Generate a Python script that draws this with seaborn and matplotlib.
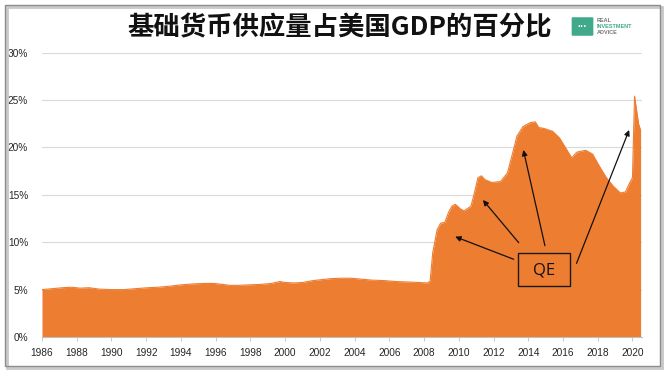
import numpy as np
import pandas as pd
import seaborn as sns
import matplotlib
matplotlib.use("Agg")
import matplotlib.pyplot as plt
from matplotlib.patches import Rectangle, FancyBboxPatch

# ---------------- data ----------------
years = [1986.0, 1986.6, 1987.2, 1987.7, 1988.2, 1988.7, 1989.3, 1990.0, 1990.7,
         1991.4, 1992.1, 1992.7, 1993.3, 1994.0, 1994.7, 1995.3, 1995.9, 1996.4,
         1996.8, 1997.3, 1997.9, 1998.6, 1999.2, 1999.7, 2000.0, 2000.5, 2001.0,
         2001.6, 2002.1, 2002.6, 2003.2, 2003.8, 2004.4, 2005.0, 2005.7, 2006.4,
         2007.1, 2007.7, 2008.2, 2008.35, 2008.5, 2008.75, 2008.95, 2009.2, 2009.4,
         2009.6, 2009.8, 2010.1, 2010.3, 2010.7, 2010.9, 2011.1, 2011.3, 2011.5,
         2011.9, 2012.4, 2012.8, 2013.1, 2013.35, 2013.7, 2014.1, 2014.4, 2014.6,
         2014.9, 2015.4, 2015.8, 2016.1, 2016.5, 2016.8, 2017.3, 2017.7, 2018.1,
         2018.5, 2018.9, 2019.3, 2019.6, 2019.85, 2020.0, 2020.12, 2020.35, 2020.47]
base_pct = [5.0, 5.1, 5.2, 5.25, 5.15, 5.2, 5.05, 5.0, 5.0,
            5.1, 5.2, 5.25, 5.35, 5.5, 5.6, 5.65, 5.65, 5.55,
            5.45, 5.45, 5.5, 5.55, 5.65, 5.85, 5.75, 5.7, 5.75,
            5.95, 6.05, 6.15, 6.2, 6.2, 6.1, 6.0, 5.95, 5.85,
            5.8, 5.75, 5.7, 5.9, 8.9, 11.3, 12.0, 12.1, 13.1,
            13.8, 14.0, 13.5, 13.3, 13.8, 15.2, 16.8, 17.0, 16.6,
            16.3, 16.4, 17.3, 19.4, 21.2, 22.2, 22.6, 22.7, 22.1,
            22.0, 21.7, 21.0, 20.1, 18.9, 19.5, 19.7, 19.3, 18.0,
            16.8, 15.9, 15.2, 15.3, 16.3, 16.8, 25.4, 22.5, 21.8]
x_ticks = list(range(1986, 2021, 2))
y_ticks = [0, 5, 10, 15, 20, 25, 30]
y_tick_labels = ["0%", "5%", "10%", "15%", "20%", "25%", "30%"]
title = "基础货币供应量占美国GDP的百分比"
annot_label = "QE"

df = pd.DataFrame({"year": years, "pct": base_pct})

# ---------------- style ----------------
sns.set_style("white")
plt.rcParams["font.family"] = ["Liberation Sans", "Noto Sans CJK SC", "DejaVu Sans"]

ORANGE = "#ED7D31"
fig = plt.figure(figsize=(6.69, 3.75), dpi=100)
W, H = 669, 375
ax = fig.add_axes([42 / W, 1 - 337 / H, 600 / W, (337 - 52.6) / H])

sns.lineplot(data=df, x="year", y="pct", ax=ax, color=ORANGE, lw=0.8, zorder=3)
ax.fill_between(df["year"], df["pct"], 0, color=ORANGE, lw=0, zorder=2)

ax.set_xlim(1986, 2020.55)
ax.set_ylim(0, 30)
ax.set_xticks(x_ticks)
ax.set_xticklabels([str(t) for t in x_ticks], fontsize=7.3, color="#262626")
ax.set_yticks(y_ticks)
ax.set_yticklabels(y_tick_labels, fontsize=7.3, color="#262626")
ax.set_xlabel("")
ax.set_ylabel("")
ax.grid(axis="y", color="#d9d9d9", lw=0.8, zorder=0)
ax.set_axisbelow(True)
for s in ["top", "right", "left"]:
    ax.spines[s].set_visible(False)
ax.spines["bottom"].set_color("#bfbfbf")
ax.spines["bottom"].set_linewidth(0.8)
ax.tick_params(axis="x", length=3, width=0.6, color="#bfbfbf", pad=5, bottom=True)
ax.tick_params(axis="y", length=0, pad=10)

# ---------------- QE annotation ----------------
box_x0, box_x1, box_y0, box_y1 = 2013.40, 2016.40, 5.38, 8.86
ax.add_patch(Rectangle((box_x0, box_y0), box_x1 - box_x0, box_y1 - box_y0,
                       fill=False, edgecolor="#1a1a1a", lw=1.0, zorder=5))
ax.text((box_x0 + box_x1) / 2, (box_y0 + box_y1) / 2 - 0.1, annot_label,
        ha="center", va="center", fontsize=12, color="#111111",
        family=["Open Sans", "DejaVu Sans"], zorder=6)

arrows = [((2013.16, 8.2), (2009.79, 10.58)),
          ((2013.45, 9.95), (2011.39, 14.45)),
          ((2014.96, 9.63), (2013.72, 19.73)),
          ((2016.78, 7.77), (2019.81, 21.84))]
for start, end in arrows:
    ax.annotate("", xy=end, xytext=start,
                arrowprops=dict(arrowstyle="-|>", color="#111111", lw=0.9,
                                mutation_scale=8, shrinkA=0, shrinkB=0),
                zorder=6)

# ---------------- title ----------------
fig.text(340 / W, 1 - 28 / H, title, ha="center", va="center",
         fontsize=19, fontweight="heavy", color="#111111",
         family=["Noto Sans CJK SC", "DejaVu Sans"])

# ---------------- logo ----------------
fig.patches.append(FancyBboxPatch((573 / W, 1 - 35 / H), 19 / W, 17 / H,
                                  boxstyle="round,pad=0.002",
                                  transform=fig.transFigure,
                                  facecolor="#3fa98a", edgecolor="none"))
fig.text(582.5 / W, 1 - 27 / H, "···", ha="center", va="center",
         fontsize=7, color="white", fontweight="bold")
fig.text(597 / W, 1 - 20 / H, "REAL", ha="left", va="center", fontsize=4,
         color="#777777", fontweight="bold")
fig.text(597 / W, 1 - 26 / H, "INVESTMENT", ha="left", va="center", fontsize=4,
         color="#3fa98a", fontweight="bold")
fig.text(597 / W, 1 - 32 / H, "ADVICE", ha="left", va="center", fontsize=4,
         color="#777777", fontweight="bold")

# ---------------- frame ----------------
fig.patches.append(Rectangle((7 / W, 1 - 368 / H), 655 / W, 361 / H,
                             transform=fig.transFigure, fill=False,
                             edgecolor="#c8c8c8", lw=2.0))
fig.patches.append(Rectangle((5 / W, 1 - 366 / H), 655 / W, 361 / H,
                             transform=fig.transFigure, fill=False,
                             edgecolor="#8c8c8c", lw=1.0))

fig.savefig("out.png", dpi=100)
